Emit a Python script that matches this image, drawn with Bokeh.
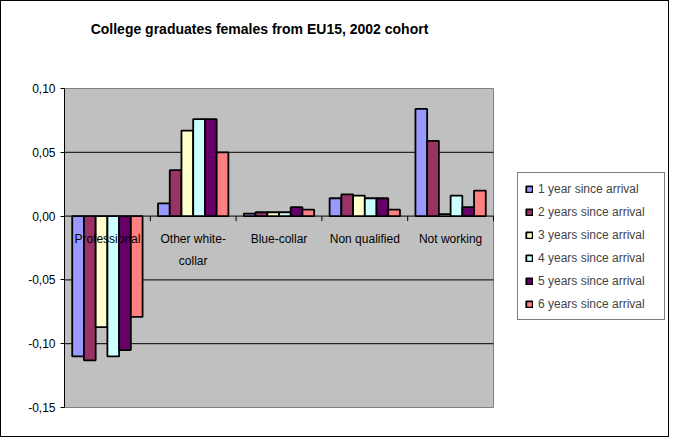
import math
from bokeh.plotting import figure
from bokeh.models import Range1d, FixedTicker, Legend, LegendItem, ColumnDataSource, Label
from bokeh.transform import dodge
from bokeh.core.properties import value
from bokeh.embed import file_html
from bokeh.resources import INLINE

categories = ["Professional", "Other white-\ncollar", "Blue-collar", "Non qualified", "Not working"]
series_names = ["1 year since arrival", "2 years since arrival", "3 years since arrival",
                "4 years since arrival", "5 years since arrival", "6 years since arrival"]
year1 = [-0.110, 0.010, 0.002, 0.014, 0.084]
year2 = [-0.113, 0.036, 0.003, 0.017, 0.059]
year3 = [-0.087, 0.067, 0.003, 0.016, 0.0015]
year4 = [-0.110, 0.076, 0.003, 0.014, 0.016]
year5 = [-0.105, 0.076, 0.007, 0.014, 0.007]
year6 = [-0.079, 0.050, 0.005, 0.005, 0.020]
y_ticks = [-0.15, -0.10, -0.05, 0.0, 0.05, 0.10]
y_tick_labels = ["-0,15", "-0,10", "-0,05", "0,00", "0,05", "0,10"]
colors = ["#9999FF", "#993366", "#FFFFCC", "#CCFFFF", "#660066", "#FF8080"]

FONT = "Liberation Sans"
series = [year1, year2, year3, year4, year5, year6]
n_cat = len(categories)
xc = [i + 0.5 for i in range(n_cat)]
bounds = list(range(n_cat + 1))
y_lo, y_hi = y_ticks[0], y_ticks[-1]
grid_y = y_ticks[1:-1]

# layout (pixels inside the figure)
W, H = 669, 437
LEFT = 63                     # plot-area left edge
AREA_W, AREA_TOP, AREA_BOT = 429, 87, 406
px_x = n_cat / AREA_W
px_y = (y_hi - y_lo) / (AREA_BOT - AREA_TOP)
x_end = (W - LEFT) * px_x
y_top = y_hi + AREA_TOP * px_y
y_bot = y_lo - (H - AREA_BOT) * px_y

src = ColumnDataSource(dict(x=xc, cat=categories, **{f"s{j}": s for j, s in enumerate(series)}))

p = figure(width=W, height=H, output_backend="svg", toolbar_location=None,
           x_range=Range1d(0, x_end), y_range=Range1d(y_bot, y_top),
           min_border_left=LEFT, min_border_right=0, min_border_top=0, min_border_bottom=0,
           styles={"border": "1px solid black"})
p.background_fill_color = "white"
p.border_fill_color = "white"
p.outline_line_color = None
p.xgrid.visible = False
p.ygrid.visible = False
p.xaxis.visible = False

# plot area
p.quad(left=[0], right=[n_cat], bottom=[y_lo], top=[y_hi],
       fill_color="#C0C0C0", line_color="#808080", line_width=1)

# horizontal gridlines (including the zero line)
p.segment(x0=[0] * len(grid_y), x1=[n_cat] * len(grid_y), y0=grid_y, y1=grid_y,
          line_color="black", line_width=1)

p.yaxis.ticker = FixedTicker(ticks=y_ticks)
p.yaxis.bounds = (y_lo, y_hi)
p.yaxis.major_label_overrides = {t: l for t, l in zip(y_ticks, y_tick_labels)}
p.yaxis.major_label_text_font = FONT
p.yaxis.major_label_text_font_size = "12px"
p.yaxis.major_label_text_color = "black"
p.yaxis.axis_line_color = "black"
p.yaxis.major_tick_line_color = "black"
p.yaxis.major_tick_in = 0
p.yaxis.major_tick_out = 4
p.yaxis.minor_tick_line_color = None
p.yaxis.major_label_standoff = 5

# category separator ticks hanging below the zero line
p.ray(x=bounds, y=[0] * len(bounds), length=5, length_units="screen",
      angle=-math.pi / 2, line_color="black", line_width=1)

group = 0.82
bw = group / len(series)
items = []
for j, (name, col) in enumerate(zip(series_names, colors)):
    off = (j - (len(series) - 1) / 2) * bw
    r = p.vbar(x=dodge("x", off, range=p.x_range), top=f"s{j}", bottom=0, width=bw,
               source=src, fill_color=col, line_color="black", line_width=1.8)
    items.append(LegendItem(label=name, renderers=[r]))

p.text(x="x", y=0, text="cat", source=src, text_align="center", text_baseline="top",
       y_offset=16, text_font=value(FONT), text_font_size="12px", text_color="black",
       text_line_height=1.6)

title = Label(x=195, y=H - 27, x_units="screen", y_units="screen",
              text="College graduates females from EU15, 2002 cohort",
              text_font=FONT, text_font_size="14px", text_font_style="bold",
              text_align="center", text_baseline="middle", text_color="black")
p.add_layout(title)

legend = Legend(items=items, location=(453, H - 319))
legend.border_line_color = "black"
legend.border_line_width = 1
legend.background_fill_color = "white"
legend.background_fill_alpha = 1
legend.label_text_font = FONT
legend.label_text_font_size = "12px"
legend.glyph_width = 8
legend.glyph_height = 8
legend.label_height = 17
legend.label_width = 119
legend.spacing = 6
legend.padding = 7
legend.margin = 0
legend.label_standoff = 5
p.add_layout(legend, "center")

open("out.html", "w").write(file_html(p, INLINE))
